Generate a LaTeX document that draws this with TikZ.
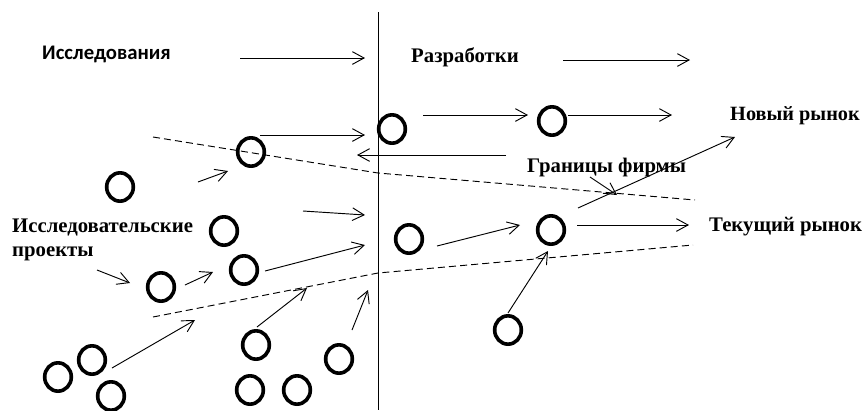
\documentclass[tikz,border=0pt]{standalone}
\usepackage{fontspec}
\setmainfont{Liberation Serif}
\newfontfamily\calib{Carlito}
\usetikzlibrary{arrows.meta,shapes.geometric}
\begin{document}
\begin{tikzpicture}[x=0.03cm,y=-0.03cm,
  circ/.style={draw,ellipse,line width=3.1pt,minimum width=0.8cm,minimum height=0.85cm,inner sep=0pt},
  arr/.style={line width=0.8pt,-{Straight Barb[length=3.5mm,width=3.8mm,line width=0.8pt]}},
  bnd/.style={line width=0.8pt,dash pattern=on 6pt off 3.5pt},
  lbl/.style={anchor=base west,inner sep=0pt,font=\bfseries\fontsize{17.7}{20}\selectfont},
  lbls/.style={anchor=base west,inner sep=0pt,font=\calib\bfseries\fontsize{17.7}{20}\selectfont}]
\useasboundingbox (0,0) rectangle (862,410);
% vertical divider
\coordinate (vt) at (378,12);
\coordinate (vb) at (378,410);
\draw[line width=0.8pt] (vt) -- (vb);
% labels
\node[lbls] (t1) at (42,59) {Исследования};
\node[lbl] (t2) at (411,62) {Разработки};
\node[lbl,font=\bfseries\fontsize{17.3}{20}\selectfont] (t3) at (730,120) {Новый рынок};
\node[lbl] (t4) at (527,172) {Границы фирмы};
\node[lbl] (t5) at (12,232) {Исследовательские};
\node[lbl] (t6) at (12,256) {проекты};
\node[lbl] (t7) at (709,231) {Текущий рынок};
% circles
\node[circ] (c1) at (392,129) {};
\node[circ] (c2) at (552,121) {};
\node[circ] (c3) at (251,152) {};
\node[circ] (c4) at (120,187) {};
\node[circ] (c5) at (224,231) {};
\node[circ] (c6) at (409,239) {};
\node[circ] (c7) at (551,230) {};
\node[circ] (c8) at (244,270) {};
\node[circ] (c9) at (161,287) {};
\node[circ] (c10) at (92,360) {};
\node[circ] (c11) at (58,377) {};
\node[circ] (c12) at (111,396) {};
\node[circ] (c13) at (256,345) {};
\node[circ] (c14) at (250,390) {};
\node[circ] (c15) at (297,390) {};
\node[circ] (c16) at (339,359) {};
\node[circ] (c17) at (508,330) {};
% firm boundaries
\coordinate (u1) at (153,137);
\coordinate (u2) at (378,173);
\coordinate (u3) at (695,200);
\coordinate (l1) at (153,317);
\coordinate (l2) at (378,273);
\coordinate (l3) at (693,245);
\draw[bnd] (u1) -- (u2) -- (u3);
\draw[bnd] (l1) -- (l2) -- (l3);
% arrow end points
\coordinate (a1s) at (240,58);  \coordinate (a1e) at (365,58);
\coordinate (a2s) at (563,60);  \coordinate (a2e) at (690,60);
\coordinate (a3s) at (423,115); \coordinate (a3e) at (528,115);
\coordinate (a4s) at (568,115); \coordinate (a4e) at (672,115);
\coordinate (a5s) at (578,208); \coordinate (a5e) at (735,137);
\coordinate (a6s) at (590,177); \coordinate (a6e) at (617,195);
\coordinate (a7s) at (506,155); \coordinate (a7e) at (357,155);
\coordinate (a8s) at (260,135); \coordinate (a8e) at (365,135);
\coordinate (a9s) at (198,182); \coordinate (a9e) at (228,171);
\coordinate (a10s) at (303,211); \coordinate (a10e) at (365,215);
\coordinate (a11s) at (437,246); \coordinate (a11e) at (520,225);
\coordinate (a12s) at (577,225); \coordinate (a12e) at (689,225);
\coordinate (a13s) at (265,271); \coordinate (a13e) at (365,245);
\coordinate (a14s) at (185,285); \coordinate (a14e) at (213,272);
\coordinate (a15s) at (97,270);  \coordinate (a15e) at (130,283);
\coordinate (a16s) at (112,368); \coordinate (a16e) at (195,320);
\coordinate (a17s) at (257,327); \coordinate (a17e) at (307,288);
\coordinate (a18s) at (352,330); \coordinate (a18e) at (368,290);
\coordinate (a19s) at (508,313); \coordinate (a19e) at (548,251);
\foreach \i in {1,...,19} {\draw[arr] (a\i s) -- (a\i e);}
\end{tikzpicture}
\end{document}
